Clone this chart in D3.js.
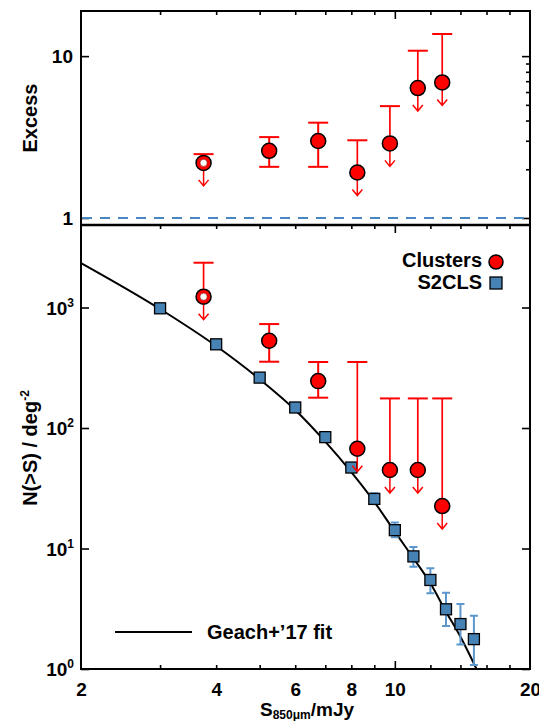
<!DOCTYPE html>
<html>
<head>
<meta charset="utf-8">
<script src="https://cdn.jsdelivr.net/npm/d3@7"></script>
<style>
  body { margin: 0; background: #fff; }
  text { font-family: "Liberation Sans", Arial, Helvetica, sans-serif; font-weight: bold; fill: #000; }
</style>
</head>
<body>
<script>
// cluster counts (red)
var clusterS = [3.75, 5.25, 6.75, 8.25, 9.75, 11.25, 12.75];
var clusterN = [1230, 530, 245, 67.3, 44.8, 44.8, 22.5];
var clusterNHi = [2354, 729, 353, 353, 176, 176, 176];
var clusterNLo = [null, 355, 178.5, null, null, null, null];
var clusterIsLimit = [true, false, false, true, true, true, true];
var clusterIsOpen = [true, false, false, false, false, false, false];

// excess (top panel)
var excess = [2.19, 2.60, 2.99, 1.91, 2.89, 6.35, 6.88];
var excessHi = [2.48, 3.16, 3.88, 3.02, 4.91, 10.8, 13.7];
var excessLo = [null, 2.07, 2.07, null, null, null, null];

// S2CLS (blue)
var s2clsS = [3, 4, 5, 6, 7, 8, 9, 10, 11, 12, 13, 14, 15];
var s2clsN = [985, 495, 262, 148, 84, 47, 25.8, 14.2, 8.6, 5.48, 3.13, 2.36, 1.77];
var s2clsHi = [1010, 510, 270, 154, 88, 50, 28.7, 16.4, 10.3, 6.85, 4.3, 3.46, 2.77];
var s2clsLo = [960, 480, 254, 142, 80, 44, 23.5, 12.4, 7.06, 4.25, 2.27, 1.6, 1.08];

// Geach+'17 fit
var fitS = [2, 3, 4, 5, 6, 7, 8, 9, 10, 11, 12, 13, 14, 15.2];
var fitN = [2340, 972, 479, 254, 141, 77, 43, 24.4, 13.8, 8.3, 5.14, 2.99, 1.85, 1.0];

// ticks
var xLabelTicks = [2, 4, 6, 8, 10, 20];
var xMinorTicks = [3, 4, 5, 6, 7, 8, 9, 12, 14, 16, 18];
var xMajorTicks = [10];
var exMajorTicks = [1, 10];
var exMinorTicks = [2, 3, 4, 5, 6, 7, 8, 9];
var nMajorTicks = [1, 10, 100, 1000];
var nExponents = ["0", "1", "2", "3"];

var RED = "#ff0000";
var BLUE = "#4682b4";
var BLUE_ERR = "#5b97cc";

function draw_graph() {
  var W = 539, H = 721;
  var left = 81, right = 530, top = 11, mid = 225, bottom = 669;

  var svg = d3.select("body")
    .append("svg")
    .attr("width", W)
    .attr("height", H);

  var xScale = d3.scaleLog().domain([2, 20]).range([left, right]);
  var yEx = d3.scaleLog().domain([0.905, 19]).range([mid, top]);
  var yN = d3.scaleLog().domain([1, 4840]).range([bottom, mid]);

  svg.append("clipPath").attr("id", "clipBot")
    .append("rect").attr("x", left).attr("y", mid).attr("width", right - left).attr("height", bottom - mid);

  // ---- axes / ticks ----
  function xTicks(y, dir) {
    // dir = 1 : ticks point down, -1 : up
    svg.append("g")
      .attr("transform", "translate(0," + y + ")")
      .call(d3.axisBottom(xScale).tickValues(xMinorTicks).tickSize(4 * dir).tickSizeOuter(0).tickFormat(""))
      .call(function(g){ g.select(".domain").remove(); });
    svg.append("g")
      .attr("transform", "translate(0," + y + ")")
      .call(d3.axisBottom(xScale).tickValues(xMajorTicks).tickSize(8 * dir).tickSizeOuter(0).tickFormat(""))
      .call(function(g){ g.select(".domain").remove(); });
  }
  xTicks(top, 1);
  xTicks(mid, 1);
  xTicks(bottom, -1);

  // x labels
  var xl = svg.append("g")
    .attr("transform", "translate(0," + bottom + ")")
    .call(d3.axisBottom(xScale).tickValues(xLabelTicks).tickSize(0).tickPadding(0).tickFormat(d3.format("d")));
  xl.select(".domain").remove();
  xl.selectAll("text").attr("font-size", 19).attr("y", 27).attr("dy", 0);

  // top panel y ticks
  var exL = svg.append("g")
    .attr("transform", "translate(" + left + ",0)")
    .call(d3.axisRight(yEx).tickValues(exMajorTicks).tickSize(8).tickFormat(""));
  exL.select(".domain").remove();
  var exR = svg.append("g")
    .attr("transform", "translate(" + right + ",0)")
    .call(d3.axisLeft(yEx).tickValues(exMajorTicks).tickSize(8).tickFormat(""));
  exR.select(".domain").remove();
  var exRm = svg.append("g")
    .attr("transform", "translate(" + right + ",0)")
    .call(d3.axisLeft(yEx).tickValues(exMinorTicks).tickSize(4).tickFormat(""));
  exRm.select(".domain").remove();
  var exLab = svg.append("g")
    .attr("transform", "translate(" + left + ",0)")
    .call(d3.axisLeft(yEx).tickValues(exMajorTicks).tickSize(0).tickPadding(8).tickFormat(d3.format("d")));
  exLab.select(".domain").remove();
  exLab.selectAll("text").attr("font-size", 19).attr("dy", "0.36em");

  // bottom panel y ticks
  var nL = svg.append("g")
    .attr("transform", "translate(" + left + ",0)")
    .call(d3.axisRight(yN).tickValues(nMajorTicks).tickSize(8).tickFormat(""));
  nL.select(".domain").remove();
  var nR = svg.append("g")
    .attr("transform", "translate(" + right + ",0)")
    .call(d3.axisLeft(yN).tickValues(nMajorTicks).tickSize(8).tickFormat(""));
  nR.select(".domain").remove();
  var nLab = svg.append("g")
    .attr("transform", "translate(" + left + ",0)")
    .call(d3.axisLeft(yN).tickValues(nMajorTicks).tickSize(0).tickPadding(7).tickFormat(""));
  nLab.select(".domain").remove();
  nLab.selectAll("text")
    .attr("font-size", 19)
    .attr("dy", "0.36em")
    .each(function(d, i) {
      var t = d3.select(this);
      t.append("tspan").text("10");
      t.append("tspan").attr("font-size", 12).attr("dy", -8).text(nExponents[i]);
    });

  svg.selectAll("g.tick line").attr("stroke", "#000").attr("stroke-width", 1.6);

  // frames
  svg.append("rect").attr("x", left).attr("y", top).attr("width", right - left).attr("height", mid - top)
    .attr("fill", "none").attr("stroke", "#000").attr("stroke-width", 2);
  svg.append("rect").attr("x", left).attr("y", mid).attr("width", right - left).attr("height", bottom - mid)
    .attr("fill", "none").attr("stroke", "#000").attr("stroke-width", 2);
  svg.append("line").attr("x1", left).attr("x2", right).attr("y1", mid).attr("y2", mid)
    .attr("stroke", "#000").attr("stroke-width", 2.6);

  // axis titles
  svg.append("text")
    .attr("transform", "translate(37," + 118 + ") rotate(-90)")
    .attr("text-anchor", "middle")
    .attr("font-size", 20)
    .text("Excess");

  var yt = svg.append("text")
    .attr("transform", "translate(37," + 448 + ") rotate(-90)")
    .attr("text-anchor", "middle")
    .attr("font-size", 20);
  yt.append("tspan").text("N(>S) / deg");
  yt.append("tspan").attr("font-size", 12).attr("dy", -8).text("-2");

  var xt = svg.append("text")
    .attr("x", 307).attr("y", 716)
    .attr("text-anchor", "middle")
    .attr("font-size", 19);
  xt.append("tspan").text("S");
  xt.append("tspan").attr("font-size", 12).attr("dy", 3).text("850\u03bcm");
  xt.append("tspan").attr("dy", -3).text("/mJy");

  // ---- top panel ----
  svg.append("line")
    .attr("x1", left + 1).attr("x2", right - 1)
    .attr("y1", yEx(1)).attr("y2", yEx(1))
    .attr("stroke", "#4a87c1").attr("stroke-width", 2)
    .attr("stroke-dasharray", "10,8");

  function redPoints(yScale, vals, his, los, g) {
    for (var i = 0; i < vals.length; i++) {
      var cx = xScale(clusterS[i]);
      var cy = yScale(vals[i]);
      var yHi = yScale(his[i]);
      var lim = clusterIsLimit[i];
      var yLo = lim ? cy : yScale(los[i]);
      g.append("line").attr("x1", cx).attr("x2", cx).attr("y1", yHi).attr("y2", yLo)
        .attr("stroke", RED).attr("stroke-width", lim ? 1.7 : 2);
      g.append("line").attr("x1", cx - 10).attr("x2", cx + 10).attr("y1", yHi).attr("y2", yHi)
        .attr("stroke", RED).attr("stroke-width", 2);
      if (!lim) {
        g.append("line").attr("x1", cx - 10).attr("x2", cx + 10).attr("y1", yLo).attr("y2", yLo)
          .attr("stroke", RED).attr("stroke-width", 2);
      } else {
        var tip = cy + 23;
        g.append("path")
          .attr("d", "M" + cx + "," + (cy + 7) + "L" + cx + "," + tip +
                     "M" + (cx - 5) + "," + (tip - 6) + "L" + cx + "," + tip + "L" + (cx + 5) + "," + (tip - 6))
          .attr("fill", "none").attr("stroke", RED).attr("stroke-width", 1.5);
      }
    }
    for (var j = 0; j < vals.length; j++) {
      var px = xScale(clusterS[j]);
      var py = yScale(vals[j]);
      g.append("circle").attr("cx", px).attr("cy", py).attr("r", 7.5)
        .attr("fill", RED).attr("stroke", "#000").attr("stroke-width", 1.5);
      if (clusterIsOpen[j]) {
        g.append("circle").attr("cx", px).attr("cy", py).attr("r", 3.6)
          .attr("fill", "#fff").attr("stroke", "#800").attr("stroke-width", 0.6);
      }
    }
  }

  redPoints(yEx, excess, excessHi, excessLo, svg.append("g"));

  // ---- bottom panel ----
  var line = d3.line()
    .x(function(d){ return xScale(d[0]); })
    .y(function(d){ return yN(d[1]); })
    .curve(d3.curveMonotoneX);
  svg.append("path")
    .datum(fitS.map(function(s, i){ return [s, fitN[i]]; }))
    .attr("clip-path", "url(#clipBot)")
    .attr("d", line)
    .attr("fill", "none")
    .attr("stroke", "#000")
    .attr("stroke-width", 2);

  var bg = svg.append("g");
  bg.selectAll("path.err")
    .data(s2clsS)
    .enter()
    .append("path")
    .attr("d", function(d, i) {
      var cx = xScale(d), y1 = yN(s2clsHi[i]), y2 = yN(s2clsLo[i]);
      return "M" + cx + "," + y1 + "L" + cx + "," + y2 +
             "M" + (cx - 4) + "," + y1 + "L" + (cx + 4) + "," + y1 +
             "M" + (cx - 4) + "," + y2 + "L" + (cx + 4) + "," + y2;
    })
    .attr("fill", "none")
    .attr("stroke", BLUE_ERR)
    .attr("stroke-width", 2);

  bg.selectAll("rect")
    .data(s2clsS)
    .enter()
    .append("rect")
    .attr("x", function(d){ return xScale(d) - 5.5; })
    .attr("y", function(d, i){ return yN(s2clsN[i]) - 5.5; })
    .attr("width", 11)
    .attr("height", 11)
    .attr("fill", BLUE)
    .attr("stroke", "#000")
    .attr("stroke-width", 1.3);

  redPoints(yN, clusterN, clusterNHi, clusterNLo, svg.append("g"));

  // legend
  svg.append("text").attr("x", 482).attr("y", 267).attr("text-anchor", "end").attr("font-size", 20).text("Clusters");
  svg.append("circle").attr("cx", 496).attr("cy", 262).attr("r", 7)
    .attr("fill", RED).attr("stroke", "#000").attr("stroke-width", 1.5);
  svg.append("text").attr("x", 482).attr("y", 289).attr("text-anchor", "end").attr("font-size", 20).text("S2CLS");
  svg.append("rect").attr("x", 490).attr("y", 277).attr("width", 12).attr("height", 12)
    .attr("fill", BLUE).attr("stroke", "#000").attr("stroke-width", 1.3);

  svg.append("line").attr("x1", 115).attr("x2", 192).attr("y1", 632).attr("y2", 632)
    .attr("stroke", "#000").attr("stroke-width", 2);
  svg.append("text").attr("x", 207).attr("y", 639).attr("font-size", 20).text("Geach+\u201917 fit");
}

draw_graph();
</script>
</body>
</html>
